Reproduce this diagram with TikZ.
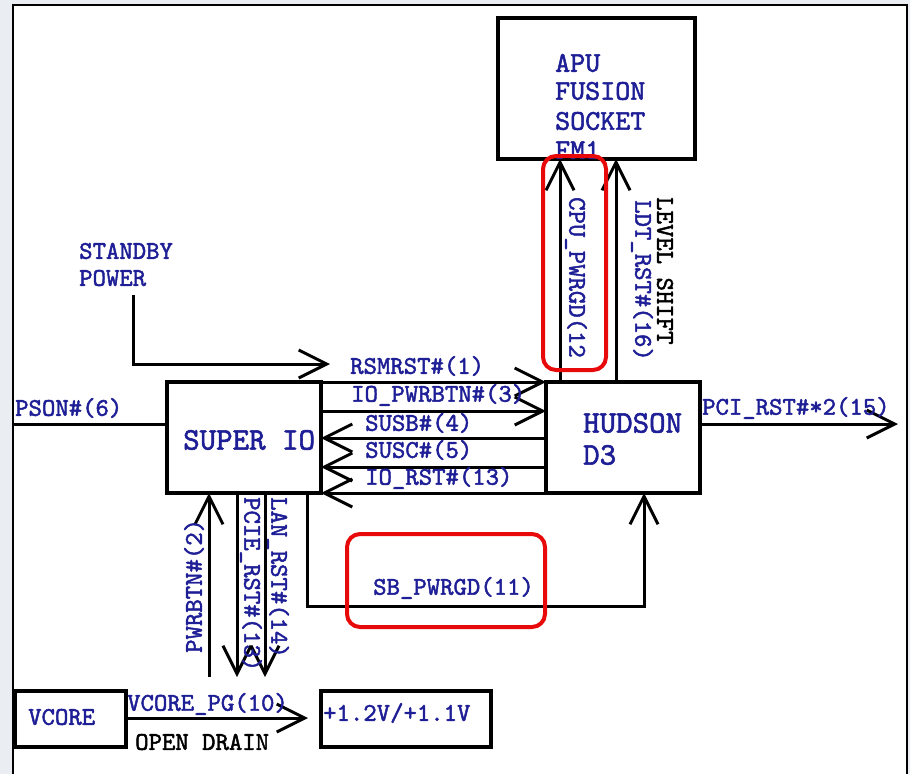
\documentclass[tikz,border=0pt]{standalone}
\usepackage{fontspec}
\newfontfamily\cmono{lmmono10-regular.otf}[FakeBold=1.8]
\usetikzlibrary{arrows.meta}
\definecolor{lblue}{RGB}{30,30,150}
\definecolor{redbox}{RGB}{232,10,10}
\definecolor{bgout}{RGB}{234,237,242}
\begin{document}
\begin{tikzpicture}[x=1pt,y=-1pt,
  box/.style={draw, line width=3.5pt, outer sep=0pt, inner sep=0pt},
  wire/.style={line width=3pt},
  arr/.style={line width=3pt, -{Straight Barb[length=28pt,width=28pt]}},
  lbl/.style={font=\cmono\fontsize{25.5pt}{30pt}\selectfont, text=lblue, inner sep=0pt, anchor=west},
  big/.style={lbl, font=\cmono\fontsize{31.4pt}{36pt}\selectfont},
  apuf/.style={lbl, font=\cmono\fontsize{28.6pt}{33pt}\selectfont},
  blk/.style={lbl, text=black},
  redmark/.style={draw=redbox, line width=4pt, rounded corners=13pt}]
\useasboundingbox (0,0) rectangle (910,774);
\fill[bgout] (0,0) rectangle (910,774);
\fill[white] (13,5) rectangle (907,774);
\draw[line width=2pt] (13,774) -- (13,5) -- (907,5) -- (907,774);

% boxes
\node[box, minimum width=197pt, minimum height=141pt] (apu) at (596.5,88.5) {};
\node[box, minimum width=154pt, minimum height=111pt] (hudson) at (623,437.5) {};
\node[box, minimum width=154pt, minimum height=111pt] (superio) at (244,437.5) {};
\node[box, minimum width=111pt, minimum height=56pt] (vcore) at (70.5,719) {};
\node[box, minimum width=170pt, minimum height=56pt] (volt) at (406,719) {};

% helper coordinates
\coordinate (r411) at (0,411);
\coordinate (r438) at (0,438);
\coordinate (r467) at (0,467);
\coordinate (r424) at (0,424);
\coordinate (r718) at (0,718);
\coordinate (cpx) at (560,0);
\coordinate (ldx) at (616,0);
\coordinate (pwx) at (209,0);
\coordinate (pcx) at (237,0);
\coordinate (lnx) at (265,0);
\coordinate (sbx) at (307,0);
\coordinate (sbr) at (644,0);
\coordinate (psonL) at (13,424);
\coordinate (pcitip) at (898,424);
\coordinate (stbstart) at (133,295);
\coordinate (stbtip) at (330,364);
\coordinate (pwbot) at (209,677);
\coordinate (pcbot) at (237,677);
\coordinate (lnbot) at (265,677);
\coordinate (sbbot) at (307,606);
\coordinate (vctip) at (308,718);

% bus between SUPER IO and HUDSON
\draw[arr] (superio.north east) -- (hudson.north west);
\draw[arr] (superio.east |- r411) -- (hudson.west |- r411);
\draw[arr] (hudson.west |- r438) -- (superio.east |- r438);
\draw[arr] (hudson.west |- r467) -- (superio.east |- r467);
\draw[arr] (hudson.south west) -- (superio.south east);

% to APU
\draw[arr] (hudson.north -| cpx) -- (apu.south -| cpx);
\draw[arr] (hudson.north -| ldx) -- (apu.south -| ldx);

% PCI reset out
\draw[arr] (hudson.east |- r424) -- (pcitip);
% PSON
\draw[wire] (psonL) -- (superio.west |- r424);
% standby
\draw[arr] (stbstart) |- (stbtip);
% below SUPER IO
\draw[arr] (pwbot) -- (superio.south -| pwx);
\draw[arr] (superio.south -| pcx) -- (pcbot);
\draw[arr] (superio.south -| lnx) -- (lnbot);
% SB_PWRGD
\draw[arr] (superio.south -| sbx) -- (sbbot) -| (hudson.south -| sbr);
% VCORE_PG
\draw[arr] (vcore.east |- r718) -- (vctip);

% texts
\node[apuf] (t1) at (555,63) {APU};
\node[apuf] (t2) at (555,91) {FUSION};
\node[apuf] (t3) at (555,121) {SOCKET};
\node[apuf] (t4) at (555,150) {FM1};
\node[lbl] (t5) at (79,251) {STANDBY};
\node[lbl] (t6) at (79,278) {POWER};
\node[lbl] (t7) at (15,408) {PSON\#(6)};
\node[big] (t8) at (183,440) {SUPER IO};
\node[big] (t9) at (583,423) {HUDSON};
\node[big] (t10) at (583,455) {D3};
\node[lbl] (t11) at (350,366) {RSMRST\#(1)};
\node[lbl] (t12) at (351,395) {IO\_PWRBTN\#(3)};
\node[lbl] (t13) at (365,423) {SUSB\#(4)};
\node[lbl] (t14) at (365,450) {SUSC\#(5)};
\node[lbl] (t15) at (365,478) {IO\_RST\#(13)};
\node[lbl] (t16) at (702,408) {PCI\_RST\#*2(15)};
\node[lbl, rotate=-90] (t17) at (576,197) {CPU\_PWRGD(12};
\node[lbl, rotate=-90] (t18) at (642,200) {LDT\_RST\#(16)};
\node[blk, rotate=-90] (t19) at (665,197) {LEVEL SHIFT};
\node[lbl, rotate=90] (t20) at (194,653) {PWRBTN\#(2)};
\node[lbl, rotate=-90] (t21) at (251,497) {PCIE\_RST\#(13)};
\node[lbl, rotate=-90] (t22) at (278,497) {LAN\_RST\#(14)};
\node[lbl] (t23) at (373,588) {SB\_PWRGD(11)};
\node[lbl] (t24) at (28,717) {VCORE};
\node[lbl] (t25) at (127,704) {VCORE\_PG(10)};
\node[blk] (t26) at (135,742) {OPEN DRAIN};
\node[lbl] (t27) at (323,713) {+1.2V/+1.1V};

% red highlight boxes
\draw[redmark] (543,156) rectangle (606,370);
\draw[redmark] (347,534) rectangle (545,627);
\end{tikzpicture}
\end{document}
